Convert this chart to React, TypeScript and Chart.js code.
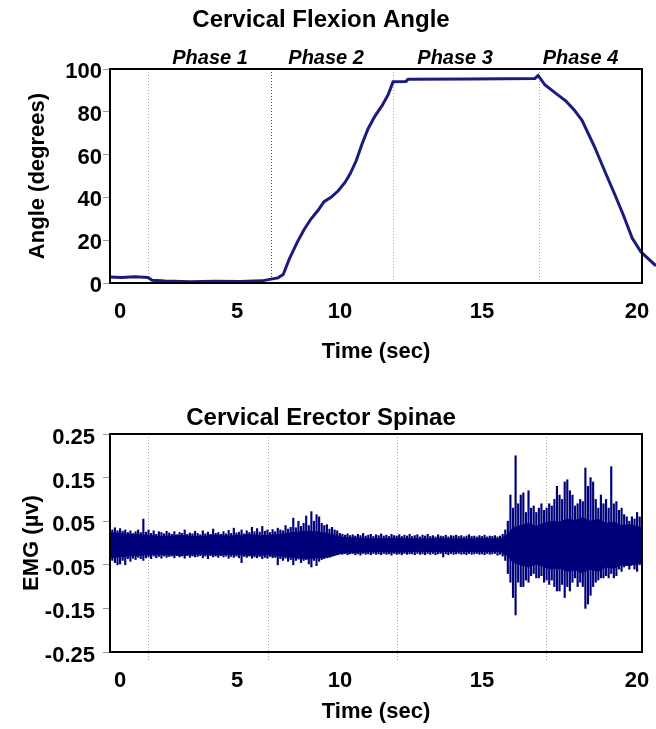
import React, { useEffect, useRef } from "react";
import { Chart, registerables } from "chart.js";
Chart.register(...registerables);

const FONT = "'Liberation Sans', Arial, Helvetica, sans-serif";
const NAVY = "#1b1b7d";
const EMG_COLOR = "#00007a";

// ---------- shared time axis (seconds) ----------
const X_MIN = -0.39;
const X_MAX = 20.19;
const xTickValues = [0, 4.53, 8.51, 14.0, 20.0];
const xTickLabels = ["0", "5", "10", "15", "20"];
const xTitle = "Time (sec)";

// ---------- top chart: cervical flexion angle ----------
const angleTitle = "Cervical Flexion Angle";
const angleAxisTitle = "Angle (degrees)";
const phaseLabels = ["Phase 1", "Phase 2", "Phase 3", "Phase 4"];
const phaseLabelTimes = [3.48, 7.97, 12.96, 17.81];
const anglePhaseBoundaries = [1.08, 5.84, 10.56, 16.21];
const anglePhaseColors = ["#a8a8a8", "#555555", "#a8a8a8", "#a8a8a8"];
const angleTicks = [0, 20, 40, 60, 80, 100];
const angleTimes = [
  -0.39, 0.04, 0.58, 1.08, 1.24, 1.74, 2.71, 3.68, 4.64, 5.49, 5.84, 6.11, 6.31,
  6.54, 6.85, 7.12, 7.39, 7.66, 7.89, 8.16, 8.43, 8.7, 8.9, 9.13, 9.36, 9.59,
  9.86, 10.14, 10.37, 10.56, 11.06, 11.14, 13.54, 16.05, 16.17, 16.44, 16.87,
  17.25, 17.56, 17.87, 18.34, 18.76, 19.15, 19.46, 19.81, 20.15, 20.73,
];
const angleValues = [
  2.8, 2.6, 2.9, 2.6, 1.3, 0.9, 0.6, 0.8, 0.7, 1.0, 1.8, 2.4, 4,
  11, 19, 25, 30, 34, 38, 40, 43, 47, 51, 57, 65, 72,
  78, 83, 88, 94, 94.2, 95.2, 95.3, 95.6, 97, 92.5, 88.5,
  85, 81, 76, 64, 52, 41, 32, 21, 14.5, 8,
];

// ---------- bottom chart: EMG ----------
const emgTitle = "Cervical Erector Spinae";
const emgAxisTitle = "EMG (µv)";
const emgPhaseBoundaries = [1.08, 5.73, 10.72, 16.48];
const emgTicks = [-0.25, -0.15, -0.05, 0.05, 0.15, 0.25];

// dense core of the signal (envelope)
const emgCoreTimes = [
  -0.39, 0.3, 1.0, 1.6, 2.3, 3.0, 3.6, 4.3, 5.0, 5.6,
  6.2, 6.7, 7.2, 7.7, 8.2, 8.6, 9.3, 10.0, 10.8, 11.6,
  12.4, 13.2, 14.0, 14.7, 15.0, 15.2, 15.5, 15.8, 16.1, 16.4,
  16.7, 17.0, 17.3, 17.6, 17.9, 18.2, 18.5, 18.8, 19.1, 19.4,
  19.7, 20.19,
];
const emgCoreHi = [
  0.024, 0.02, 0.018, 0.015, 0.017, 0.015, 0.018, 0.016, 0.019, 0.017,
  0.02, 0.024, 0.027, 0.025, 0.02, 0.013, 0.011, 0.01, 0.011, 0.009,
  0.01, 0.009, 0.01, 0.009, 0.02, 0.035, 0.04, 0.045, 0.038, 0.045,
  0.05, 0.048, 0.055, 0.052, 0.058, 0.05, 0.055, 0.045, 0.048, 0.04,
  0.042, 0.035,
];
const emgCoreLo = [
  -0.034, -0.03, -0.027, -0.026, -0.028, -0.025, -0.027, -0.026, -0.028, -0.027,
  -0.03, -0.033, -0.036, -0.034, -0.03, -0.023, -0.021, -0.02, -0.021, -0.019,
  -0.02, -0.019, -0.02, -0.019, -0.03, -0.045, -0.05, -0.055, -0.048, -0.055,
  -0.06, -0.058, -0.065, -0.062, -0.068, -0.06, -0.065, -0.055, -0.058, -0.05,
  -0.052, -0.045,
];

// spikes: per 0.1 s window, max and min of the trace
const emgSpikeStart = -0.3;
const emgSpikeStep = 0.1;
const emgSpikeHi = [
  0.03, 0.035, 0.028,
  0.033, 0.027, 0.03, 0.024, 0.028, 0.022, 0.026, 0.03, 0.024, 0.055,
  0.025, 0.03, 0.022, 0.028, 0.02, 0.026, 0.024, 0.021, 0.027, 0.023,
  0.02, 0.026, 0.019, 0.024, 0.022, 0.03, 0.02, 0.023, 0.021, 0.027,
  0.022, 0.019, 0.028, 0.021, 0.025, 0.02, 0.032, 0.022, 0.024, 0.02,
  0.026, 0.021, 0.029, 0.022, 0.034, 0.023, 0.025, 0.03, 0.021, 0.028,
  0.024, 0.036, 0.026, 0.033, 0.025, 0.038, 0.027, 0.03, 0.024, 0.031,
  0.026, 0.034, 0.03, 0.028, 0.04, 0.032, 0.036, 0.057, 0.035, 0.05,
  0.038, 0.045, 0.062, 0.04, 0.072, 0.05, 0.065, 0.06, 0.045, 0.04,
  0.042, 0.032, 0.036, 0.03, 0.028, 0.022, 0.02, 0.018, 0.021, 0.017,
  0.019, 0.016, 0.02, 0.017, 0.022, 0.016, 0.018, 0.02, 0.015, 0.019,
  0.017, 0.021, 0.016, 0.018, 0.015, 0.02, 0.017, 0.016, 0.019, 0.015,
  0.018, 0.016, 0.02, 0.015, 0.017, 0.019, 0.014, 0.018, 0.016, 0.02,
  0.015, 0.017, 0.014, 0.019, 0.016, 0.015, 0.018, 0.014, 0.017, 0.016,
  0.018, 0.015, 0.017, 0.014, 0.016, 0.019, 0.015, 0.016, 0.014, 0.017,
  0.015, 0.018, 0.014, 0.016, 0.015, 0.017, 0.014, 0.016, 0.02, 0.03,
  0.05, 0.11, 0.08, 0.2, 0.09, 0.11, 0.115, 0.07, 0.12, 0.08,
  0.085, 0.07, 0.08, 0.09, 0.075, 0.08, 0.09, 0.085, 0.1, 0.13,
  0.11, 0.1, 0.14, 0.145, 0.12, 0.11, 0.085, 0.09, 0.1, 0.095,
  0.172, 0.13, 0.15, 0.14, 0.1, 0.08, 0.11, 0.09, 0.1, 0.08,
  0.175, 0.09, 0.095, 0.075, 0.08, 0.065, 0.06, 0.05, 0.06, 0.055,
  0.07, 0.06,
];
const emgSpikeLo = [
  -0.04, -0.045, -0.05,
  -0.048, -0.04, -0.05, -0.036, -0.042, -0.035, -0.038, -0.033, -0.036, -0.04,
  -0.034, -0.032, -0.036, -0.03, -0.034, -0.031, -0.035, -0.03, -0.033, -0.031,
  -0.03, -0.034, -0.029, -0.032, -0.03, -0.035, -0.029, -0.033, -0.03, -0.032,
  -0.031, -0.029, -0.034, -0.03, -0.036, -0.029, -0.032, -0.03, -0.033, -0.029,
  -0.032, -0.03, -0.035, -0.031, -0.033, -0.03, -0.034, -0.045, -0.031, -0.033,
  -0.03, -0.035, -0.032, -0.034, -0.031, -0.036, -0.033, -0.035, -0.031, -0.034,
  -0.033, -0.05, -0.036, -0.04, -0.035, -0.042, -0.038, -0.05, -0.04, -0.037,
  -0.045, -0.04, -0.038, -0.048, -0.055, -0.04, -0.052, -0.042, -0.038, -0.036,
  -0.034, -0.033, -0.03, -0.028, -0.027, -0.025, -0.026, -0.024, -0.027, -0.025,
  -0.024, -0.027, -0.025, -0.028, -0.024, -0.026, -0.025, -0.027, -0.024, -0.026,
  -0.025, -0.027, -0.024, -0.026, -0.025, -0.028, -0.024, -0.026, -0.025, -0.027,
  -0.024, -0.026, -0.025, -0.025, -0.027, -0.024, -0.026, -0.025, -0.027, -0.024,
  -0.026, -0.024, -0.027, -0.025, -0.024, -0.032, -0.025, -0.027, -0.024, -0.026,
  -0.025, -0.024, -0.026, -0.025, -0.027, -0.024, -0.026, -0.025, -0.024, -0.026,
  -0.025, -0.027, -0.024, -0.026, -0.025, -0.024, -0.028, -0.026, -0.03, -0.04,
  -0.07, -0.09, -0.125, -0.165, -0.09, -0.1, -0.1, -0.085, -0.09, -0.075,
  -0.07, -0.08, -0.08, -0.075, -0.09, -0.085, -0.095, -0.085, -0.1, -0.11,
  -0.11, -0.095, -0.125, -0.1, -0.11, -0.09, -0.08, -0.1, -0.09, -0.1,
  -0.15, -0.14, -0.12, -0.1, -0.09, -0.085, -0.08, -0.08, -0.075, -0.08,
  -0.07, -0.08, -0.075, -0.06, -0.065, -0.055, -0.05, -0.06, -0.045, -0.06,
  -0.065, -0.05,
];

// ---------- plugin: dotted phase lines + black frame ----------
const framePlugin = {
  id: "frame",
  beforeDatasetsDraw(chart: any, _args: any, opts: any) {
    const { ctx, chartArea: a } = chart;
    const x = chart.scales.x;
    ctx.save();
    ctx.lineWidth = 1;
    ctx.setLineDash([1, 2]);
    (opts.lines || []).forEach((t: number, i: number) => {
      const px = Math.round(x.getPixelForValue(t)) + 0.5;
      ctx.strokeStyle = (opts.colors && opts.colors[i]) || "#a8a8a8";
      ctx.beginPath();
      ctx.moveTo(px, a.top);
      ctx.lineTo(px, a.bottom + (opts.extend || 0));
      ctx.stroke();
    });
    ctx.restore();
  },
  afterDatasetsDraw(chart: any) {
    const { ctx, chartArea: a } = chart;
    ctx.save();
    ctx.setLineDash([]);
    ctx.strokeStyle = "#000";
    ctx.lineWidth = 2;
    ctx.strokeRect(a.left, a.top, a.right - a.left, a.bottom - a.top);
    ctx.restore();
  },
};

const tickFont = { family: FONT, size: 22, weight: "bold" as const };
const titleFont = { family: FONT, size: 22, weight: "bold" as const };

function xAxis(height: number, titleBottom: number) {
  return {
    type: "linear" as const,
    position: "bottom" as const,
    min: X_MIN,
    max: X_MAX,
    offset: false,
    afterBuildTicks: (s: any) => {
      s.ticks = xTickValues.map((v) => ({ value: v }));
    },
    afterFit: (s: any) => {
      s.height = height;
      s.paddingLeft = 0;
      s.paddingRight = 0;
    },
    grid: { display: false },
    border: { display: false },
    ticks: {
      callback: (_v: any, i: number) => xTickLabels[i],
      font: tickFont,
      color: "#000",
      padding: 8,
      maxRotation: 0,
      autoSkip: false,
    },
    title: {
      display: true,
      text: xTitle,
      font: titleFont,
      color: "#000",
      padding: { top: 0, bottom: titleBottom },
    },
  };
}

function yAxis(
  min: number,
  max: number,
  ticks: number[],
  fmt: (v: number) => string,
  title: string,
  titleTop: number,
  labelPad: number,
  labelOffset: number
) {
  return {
    type: "linear" as const,
    position: "left" as const,
    min,
    max,
    afterBuildTicks: (s: any) => {
      s.ticks = ticks.map((v) => ({ value: v }));
    },
    afterFit: (s: any) => {
      s.width = 110;
      s.paddingTop = 0;
      s.paddingBottom = 0;
    },
    grid: {
      display: true,
      drawOnChartArea: false,
      drawTicks: true,
      tickLength: 7,
      tickColor: "#9a9a9a",
      tickWidth: 1,
    },
    border: { display: false },
    ticks: {
      callback: (v: any) => fmt(Number(v)),
      font: tickFont,
      color: "#000",
      padding: labelPad,
      labelOffset,
      autoSkip: false,
    },
    title: {
      display: true,
      text: title,
      font: titleFont,
      color: "#000",
      padding: { top: titleTop, bottom: 0 },
    },
  };
}

export default function App() {
  const topRef = useRef<HTMLCanvasElement>(null);
  const botRef = useRef<HTMLCanvasElement>(null);

  useEffect(() => {
    const top = new Chart(topRef.current as HTMLCanvasElement, {
      type: "line",
      data: {
        datasets: [
          {
            data: angleTimes.map((t, i) => ({ x: t, y: angleValues[i] })),
            borderColor: NAVY,
            borderWidth: 3,
            pointRadius: 0,
            tension: 0,
            fill: false,
            clip: false as any,
          },
        ],
      },
      options: {
        animation: false,
        responsive: false,
        devicePixelRatio: 1,
        layout: { padding: { left: 0, right: 14, top: 0, bottom: 0 } },
        plugins: {
          legend: { display: false },
          tooltip: { enabled: false },
          title: {
            display: true,
            text: angleTitle,
            color: "#000",
            font: { family: FONT, size: 24, weight: "bold" },
            padding: { top: 6, bottom: 4 },
          },
          frame: { lines: anglePhaseBoundaries, colors: anglePhaseColors, extend: 0 },
        } as any,
        scales: {
          x: xAxis(87, 4.8) as any,
          x2: {
            type: "linear",
            position: "top",
            min: X_MIN,
            max: X_MAX,
            afterBuildTicks: (s: any) => {
              s.ticks = phaseLabelTimes.map((v) => ({ value: v }));
            },
            afterFit: (s: any) => {
              s.height = 30.2;
              s.paddingLeft = 0;
              s.paddingRight = 0;
            },
            grid: { display: false },
            border: { display: false },
            ticks: {
              callback: (_v: any, i: number) => phaseLabels[i],
              font: { family: FONT, size: 20, weight: "bold", style: "italic" },
              color: "#000",
              padding: -9,
              maxRotation: 0,
              autoSkip: false,
            },
          } as any,
          y: yAxis(0, 100, angleTicks, (v) => String(v), angleAxisTitle, 25, 1, 3) as any,
        },
      },
      plugins: [framePlugin],
    });

    const bottom = new Chart(botRef.current as HTMLCanvasElement, {
      type: "bar",
      data: {
        datasets: [
          {
            type: "line",
            data: emgCoreTimes.map((t, i) => ({ x: t, y: emgCoreHi[i] })),
            borderColor: EMG_COLOR,
            backgroundColor: EMG_COLOR,
            borderWidth: 1,
            pointRadius: 0,
            tension: 0,
            fill: "+1",
          } as any,
          {
            type: "line",
            data: emgCoreTimes.map((t, i) => ({ x: t, y: emgCoreLo[i] })),
            borderColor: EMG_COLOR,
            borderWidth: 1,
            pointRadius: 0,
            tension: 0,
            fill: false,
          } as any,
          {
            type: "bar",
            data: emgSpikeHi.map((h, i) => ({
              x: emgSpikeStart + i * emgSpikeStep,
              y: [emgSpikeLo[i], h],
            })),
            backgroundColor: EMG_COLOR,
            borderWidth: 0,
            barThickness: 1.5,
          } as any,
        ],
      },
      options: {
        animation: false,
        responsive: false,
        devicePixelRatio: 1,
        layout: { padding: { left: 0, right: 14, top: 0, bottom: 0 } },
        plugins: {
          legend: { display: false },
          tooltip: { enabled: false },
          title: {
            display: true,
            text: emgTitle,
            color: "#000",
            font: { family: FONT, size: 24, weight: "bold" },
            padding: { top: 33.6, bottom: 1.6 },
          },
          frame: { lines: emgPhaseBoundaries, extend: 10 },
        } as any,
        scales: {
          x: xAxis(77, 4.3) as any,
          y: yAxis(-0.25, 0.25, emgTicks, (v) => v.toFixed(2), emgAxisTitle, 18.8, 8, 4) as any,
        },
      },
      plugins: [framePlugin],
    });

    return () => {
      top.destroy();
      bottom.destroy();
    };
  }, []);

  return (
    <div
      style={{
        position: "absolute",
        left: 0,
        top: 0,
        width: 656,
        height: 729,
        background: "#fff",
        overflow: "hidden",
      }}
    >
      <canvas
        ref={topRef}
        width={656}
        height={370}
        style={{ position: "absolute", left: 0, top: 0 }}
      />
      <canvas
        ref={botRef}
        width={656}
        height={359}
        style={{ position: "absolute", left: 0, top: 370 }}
      />
    </div>
  );
}
